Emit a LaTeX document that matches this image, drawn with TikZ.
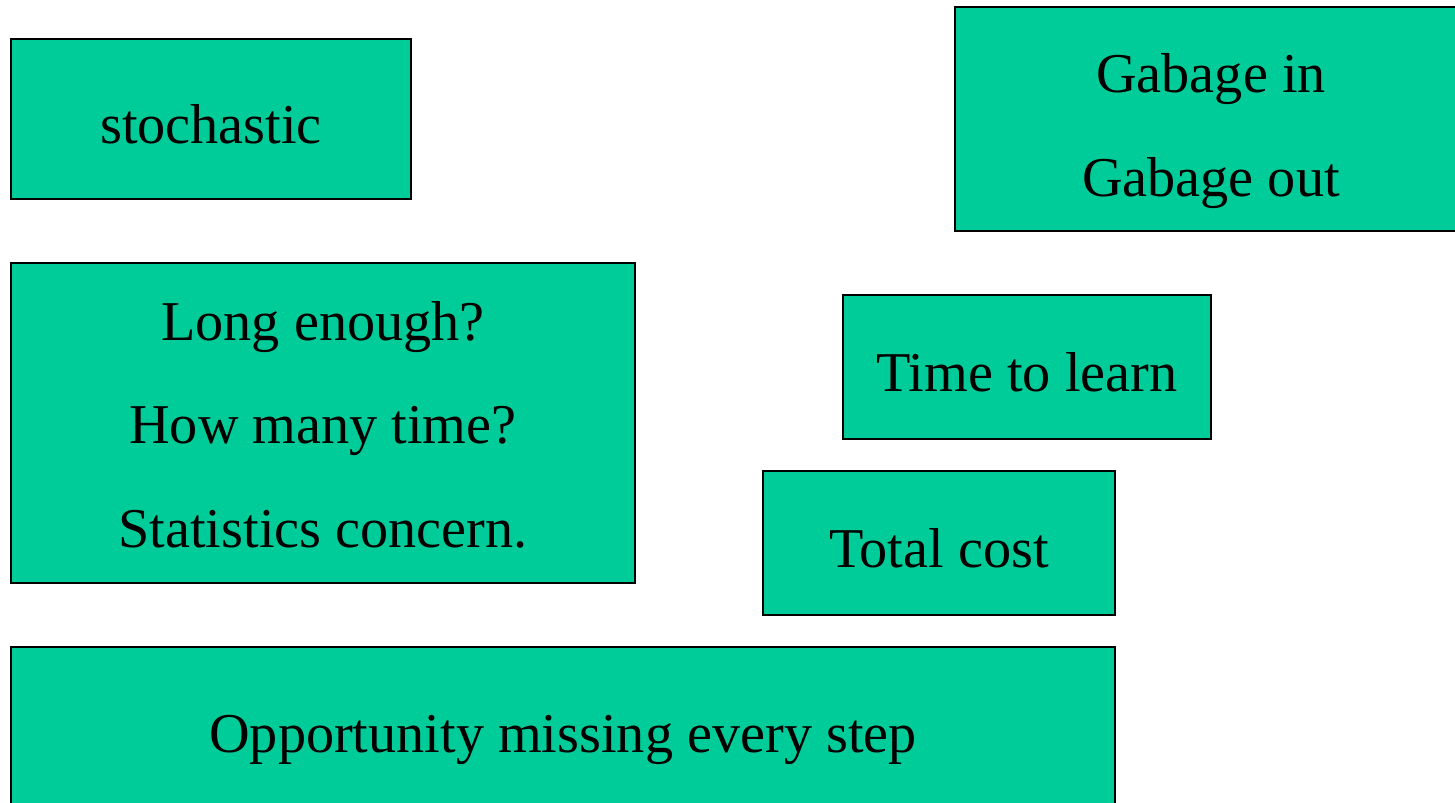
\documentclass[tikz,border=0pt]{standalone}
\usepackage{fontspec}
\setmainfont{Liberation Serif}
\definecolor{boxgreen}{HTML}{00CC99}
\tikzset{
  box/.style={draw=black, line width=1.1pt, fill=boxgreen, rectangle,
    inner sep=0pt, align=center,
    font=\fontsize{32}{59}\selectfont},
  oneline/.style={text height=28pt, text depth=0pt}
}
\begin{document}
\begin{tikzpicture}[x=0.02cm, y=-0.02cm]
  \useasboundingbox (0,0) rectangle (1455,803);
  \draw
    (211,119) node[box, oneline, minimum width=400*0.02cm, minimum height=160*0.02cm] (stoch){stochastic}
    (1211,119) node[box, minimum width=512*0.02cm, minimum height=224*0.02cm] (garbage){\rule{0pt}{46.4pt}Gabage in\\\strut Gabage out}
    (323,423) node[box, minimum width=624*0.02cm, minimum height=320*0.02cm] (long){\strut Long enough?\\\strut How many time?\\\strut Statistics concern.}
    (1027,367) node[box, oneline, minimum width=368*0.02cm, minimum height=144*0.02cm] (learn){Time to learn}
    (939,543) node[box, oneline, minimum width=352*0.02cm, minimum height=144*0.02cm] (cost){Total cost}
    (563,740) node[box, minimum width=1104*0.02cm, minimum height=186*0.02cm] (opport){Opportunity missing every step};
\end{tikzpicture}
\end{document}
